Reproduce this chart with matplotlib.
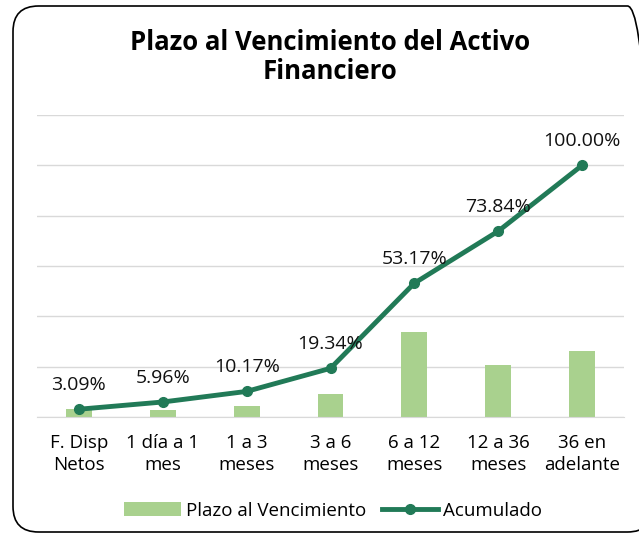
import matplotlib.pyplot as plt
from matplotlib.patches import FancyBboxPatch

categories = ["F. Disp\nNetos", "1 día a 1\nmes", "1 a 3\nmeses", "3 a 6\nmeses",
              "6 a 12\nmeses", "12 a 36\nmeses", "36 en\nadelante"]
plazo = [3.09, 2.87, 4.21, 9.17, 33.83, 20.67, 26.16]
acumulado = [3.09, 5.96, 10.17, 19.34, 53.17, 73.84, 100.00]
labels = ["3.09%", "5.96%", "10.17%", "19.34%", "53.17%", "73.84%", "100.00%"]

plt.rcParams['font.family'] = ['Open Sans', 'DejaVu Sans']

fig = plt.figure(figsize=(6.39, 5.38), dpi=100)
W, H = 639, 538

# rounded border
box = FancyBboxPatch((13 / W, 6 / H), 640 / W, 526 / H,
                     boxstyle="round,pad=0,rounding_size=0.04",
                     transform=fig.transFigure, fill=False, edgecolor='black',
                     linewidth=1.2, mutation_aspect=W / H)
fig.patches.append(box)

ax = fig.add_axes([37 / W, 121 / H, 587 / W, (417 - 115) / H])
x = list(range(len(categories)))
bars = ax.bar(x, plazo, width=0.31, color='#a9d18e', label='Plazo al Vencimiento', zorder=2)
line, = ax.plot(x, acumulado, color='#217a57', linewidth=3.5, marker='o', markersize=7,
                label='Acumulado', zorder=3)
for xi, yi, lab in zip(x, acumulado, labels):
    ax.annotate(lab, (xi, yi), xytext=(0, 11), textcoords='offset points',
                ha='center', va='bottom', fontsize=14, color='#111111')

ax.set_xlim(-0.5, len(categories) - 0.5)
ax.set_ylim(0, 120)
ax.set_yticks([0, 20, 40, 60, 80, 100, 120])
ax.yaxis.grid(True, color='#d9d9d9', linewidth=1)
ax.set_axisbelow(True)
ax.tick_params(axis='y', left=False, labelleft=False)
ax.tick_params(axis='x', length=0, pad=12, labelsize=13.5)
ax.set_xticks(x)
ax.set_xticklabels(categories, linespacing=1.3)
for s in ['top', 'right', 'left']:
    ax.spines[s].set_visible(False)
ax.spines['bottom'].set_color('#d9d9d9')

fig.text(330 / W, 1 - 57 / H, "Plazo al Vencimiento del Activo\nFinanciero",
         ha='center', va='center', fontsize=18.5, fontweight='bold', linespacing=1.1)

ax.legend([bars, line], ['Plazo al Vencimiento', 'Acumulado'],
          loc='center', bbox_to_anchor=(0.505, -0.31), ncol=2, frameon=False,
          fontsize=13.5, handlelength=3, columnspacing=0.8, handletextpad=0.3)

fig.savefig('out.png', dpi=100)
